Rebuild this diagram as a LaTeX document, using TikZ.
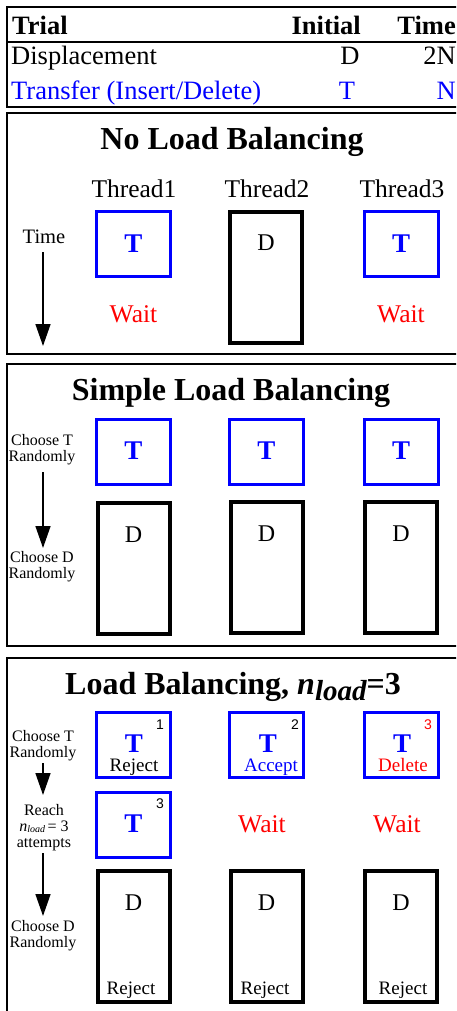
\documentclass[tikz,border=0pt]{standalone}
\usepackage{fontspec}
\setmainfont{Liberation Serif}
\newfontfamily\numfont{Liberation Sans}
\usetikzlibrary{arrows.meta}
\definecolor{tblue}{RGB}{0,0,255}
\definecolor{wred}{RGB}{255,0,0}
\newcommand{\fsz}[1]{\fontsize{#1}{#1}\selectfont}

\begin{document}
\begin{tikzpicture}[x=1pt,y=-1pt,
  txt/.style={inner sep=0pt, anchor=base},
  rule/.style={line width=1.3pt},
  panel/.style={draw, line width=1.6pt},
  tbox/.style={draw=tblue, line width=3pt, minimum width=74pt, minimum height=65pt, inner sep=0pt},
  dbox/.style={draw=black, line width=4pt, minimum width=72pt, minimum height=131pt, inner sep=0pt},
  ttxt/.style={txt, text=tblue, font=\fsz{27}\bfseries},
  dtxt/.style={txt, font=\fsz{24}},
  wait/.style={txt, text=wred, font=\fsz{25.5}},
  small/.style={txt, font=\fsz{16}},
  res/.style={txt, font=\fsz{19}},
  num/.style={txt, font=\fsz{14}\numfont},
  title/.style={txt, font=\fsz{32}\bfseries},
  tarrow/.style={line width=1.5pt, -{Triangle[width=15pt,length=22pt]}}
]
\useasboundingbox (0,0) rectangle (456,1011);
\clip (0,0) rectangle (456,1011);

% ---------- trial table ----------
\draw[rule] (470,7) -- (7,7) -- (7,107) -- (470,107);
\draw[rule] (7,42) -- (470,42);
\node[txt, anchor=base west, font=\fsz{26.5}\bfseries] (hTrial) at (12,35) {Trial};
\node[txt, anchor=base east, font=\fsz{26.5}\bfseries] (hInit) at (361,35) {Initial};
\node[txt, anchor=base east, font=\fsz{26.5}\bfseries] (hTime) at (456,35) {Time};
\node[txt, anchor=base west, font=\fsz{26.5}] (rDisp) at (11,65) {Displacement};
\node[txt, font=\fsz{26.5}] (rDispI) at (350,65) {D};
\node[txt, anchor=base east, font=\fsz{26.5}] (rDispT) at (456,65) {2N};
\node[txt, anchor=base west, font=\fsz{26.5}, text=tblue] (rTran) at (11,100) {Transfer (Insert/Delete)};
\node[txt, font=\fsz{26.5}, text=tblue] (rTranI) at (347,100) {T};
\node[txt, anchor=base east, font=\fsz{26.5}, text=tblue] (rTranT) at (456,100) {N};

% ---------- no load balancing ----------
\draw[panel] (470,113) -- (7,113) -- (7,354) -- (470,354);
\node[title] (t1) at (232,150) {No Load Balancing};
\node[txt, font=\fsz{25.5}] (th1) at (134,197) {Thread1};
\node[txt, font=\fsz{25.5}] (th2) at (267,197) {Thread2};
\node[txt, font=\fsz{25.5}] (th3) at (402,197) {Thread3};
\node[txt, font=\fsz{20.5}] (time) at (44,243) {Time};
\coordinate (a1s) at (43,252);
\coordinate (a1e) at (43,346);
\draw[tarrow] (a1s) -- (a1e);
\node[tbox] (p1t1) at (133.5,244) {};
\node[dbox] (p1d2) at (266,277.5) {};
\node[tbox] (p1t3) at (401,244) {};
\node[ttxt] (p1tt1) at (133.5,252) {T};
\node[dtxt] (p1dd2) at (266,250) {D};
\node[ttxt] (p1tt3) at (401,252) {T};
\node[wait] (p1w1) at (133.5,322) {Wait};
\node[wait] (p1w3) at (401,322) {Wait};

% ---------- simple load balancing ----------
\draw[panel] (470,364) -- (7,364) -- (7,646) -- (470,646);
\node[title] (t2) at (231,400) {Simple Load Balancing};
\node[small] (s2a) at (42,445) {Choose T};
\node[small] (s2b) at (42,461) {Randomly};
\coordinate (a2s) at (43,472);
\coordinate (a2e) at (43,548);
\draw[tarrow] (a2s) -- (a2e);
\node[small] (s2c) at (42,562) {Choose D};
\node[small] (s2d) at (42,578) {Randomly};
\node[tbox] (p2t1) at (133.5,451.5) {};
\node[tbox] (p2t2) at (266.5,451.5) {};
\node[tbox] (p2t3) at (401,451.5) {};
\node[ttxt] (p2tt1) at (133.5,459) {T};
\node[ttxt] (p2tt2) at (266.5,459) {T};
\node[ttxt] (p2tt3) at (401,459) {T};
\node[dbox] (p2d1) at (133.5,568) {};
\node[dbox] (p2d2) at (266.5,567) {};
\node[dbox] (p2d3) at (401,567) {};
\node[dtxt] (p2dd1) at (133.5,542) {D};
\node[dtxt] (p2dd2) at (266.5,541) {D};
\node[dtxt] (p2dd3) at (401,541) {D};

% ---------- load balancing with n_load = 3 ----------
\draw[panel] (470,658) -- (7,658) -- (7,1020);
\node[title] (t3) at (233,694) {Load Balancing, {\itshape n}\raisebox{-6pt}{\fsz{29}\itshape load}=3};
\node[small] (s3a) at (43,741) {Choose T};
\node[small] (s3b) at (43,757) {Randomly};
\coordinate (a3s) at (43,763);
\coordinate (a3e) at (43,795);
\draw[tarrow] (a3s) -- (a3e);
\node[small] (s3c) at (44,815) {Reach};
\node[small] (s3d) at (44,831) {{\itshape n}\raisebox{-1.5pt}{\fsz{10}\itshape load}\,= 3};
\node[small] (s3e) at (44,847) {attempts};
\coordinate (a4s) at (43,853);
\coordinate (a4e) at (43,916);
\draw[tarrow] (a4s) -- (a4e);
\node[small] (s3f) at (43,931) {Choose D};
\node[small] (s3g) at (43,947) {Randomly};

\node[tbox] (p3t1) at (133.5,745) {};
\node[tbox] (p3t2) at (266.5,745) {};
\node[tbox] (p3t3) at (401,745) {};
\node[num] (n1) at (160,729) {1};
\node[num] (n2) at (295,729) {2};
\node[num, text=wred] (n3) at (428,729) {3};
\node[ttxt] (p3tt1) at (134,752) {T};
\node[ttxt] (p3tt2) at (268,752) {T};
\node[ttxt] (p3tt3) at (402,752) {T};
\node[res] (rj1) at (134,771) {Reject};
\node[res, text=tblue] (ac2) at (271,771) {Accept};
\node[res, text=wred] (de3) at (403,771) {Delete};

\node[tbox] (p3t4) at (133.5,824.5) {};
\node[num] (n4) at (160,808) {3};
\node[ttxt] (p3tt4) at (133.5,832) {T};
\node[wait] (p3w2) at (262,832) {Wait};
\node[wait] (p3w3) at (397,832) {Wait};

\node[dbox] (p3d1) at (133.5,936.5) {};
\node[dbox] (p3d2) at (266.5,936.5) {};
\node[dbox] (p3d3) at (401,936.5) {};
\node[dtxt] (p3dd1) at (133.5,910) {D};
\node[dtxt] (p3dd2) at (266.5,910) {D};
\node[dtxt] (p3dd3) at (401,910) {D};
\node[res] (rj4) at (131,994) {Reject};
\node[res] (rj5) at (265,994) {Reject};
\node[res] (rj6) at (403,994) {Reject};
\end{tikzpicture}
\end{document}
